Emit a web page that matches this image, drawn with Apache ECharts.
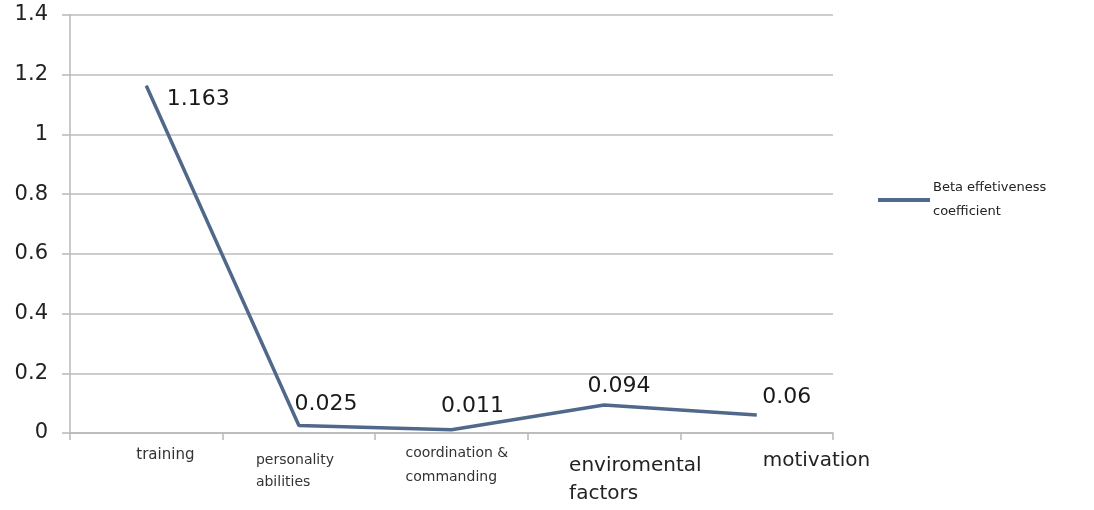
<!DOCTYPE html>
<html>
<head>
<meta charset="utf-8">
<script src="https://cdn.jsdelivr.net/npm/echarts@6/dist/echarts.min.js"></script>
<style>
  html, body { margin: 0; padding: 0; background: #fff; }
  #main { width: 1094px; height: 510px; }
</style>
</head>
<body>
<div id="main"></div>
<script>
var categories = ['training', 'personality abilities', 'coordination & commanding', 'enviromental factors', 'motivation'];
var values = [1.163, 0.025, 0.011, 0.094, 0.06];
var seriesName = 'Beta effetiveness\ncoefficient';
var yTicks = ['0', '0.2', '0.4', '0.6', '0.8', '1', '1.2', '1.4'];

// label offsets (px) relative to each point, Excel put them in odd places
var labelPos = [[21, 14], [-4, -21], [-10, -23], [-16, -18], [6, -17]];

// x label rich style keys per category (first line, second line)
var labelKeys = [['t'], ['p1', 'p2'], ['c1', 'c2'], ['e1', 'e2'], ['m']];
var labelLines = [['training'], ['personality', 'abilities'], ['coordination &', 'commanding'], ['enviromental', 'factors'], ['motivation']];

var myChart = echarts.init(document.getElementById('main'));
var font = '"DejaVu Sans", sans-serif';

var data = [];
for (let i = 0; i < values.length; i++) {
    data.push({
        value: values[i],
        label: { position: labelPos[i] }
    });
}

function small(w, p, top, lh, fs) {
    return { fontSize: fs || 14, lineHeight: lh, color: '#333', width: w, align: 'left', padding: [top, 0, 0, p], fontFamily: font };
}
function big(w, p, top, lh) {
    return { fontSize: 20, lineHeight: lh, color: '#222', width: w, align: 'left', padding: [top, 0, 0, p], fontFamily: font };
}

var option = {
    backgroundColor: '#fff',
    textStyle: { fontFamily: font },
    grid: { left: 70, right: 261, top: 15, bottom: 77, containLabel: false },
    legend: {
        show: true,
        left: 878,
        top: 172,
        padding: 0,
        orient: 'vertical',
        icon: 'rect',
        itemWidth: 52,
        itemHeight: 4,
        itemGap: 5,
        textStyle: { fontSize: 13, lineHeight: 24, color: '#222', fontFamily: font, padding: [0, 0, 8, -2] },
        data: [seriesName]
    },
    xAxis: {
        type: 'category',
        data: categories,
        boundaryGap: true,
        axisLine: { lineStyle: { color: '#b8b8b8', width: 1.5 } },
        axisTick: { show: true, length: 7, lineStyle: { color: '#b8b8b8', width: 1.5 } },
        axisLabel: {
            margin: 8,
            interval: 0,
            formatter: function (v, idx) {
                var keys = labelKeys[idx], lines = labelLines[idx], out = [];
                for (let j = 0; j < lines.length; j++) out.push('{' + keys[j] + '|' + lines[j] + '}');
                return out.join('\n');
            },
            rich: {
                t: small(66, 46, 5, 23, 15),
                p1: small(90, 4, 8, 30), p2: small(90, 4, 0, 22),
                c1: small(102, 10, 0, 24), c2: small(102, 10, 0, 24),
                e1: big(146, 76, 11, 39), e2: big(146, 76, 0, 28),
                m: big(118, 130, 12, 28)
            }
        },
        splitLine: { show: false }
    },
    yAxis: {
        type: 'value',
        min: 0,
        max: 1.4,
        interval: 0.2,
        axisLine: { show: true, lineStyle: { color: '#b8b8b8', width: 1.5 } },
        axisTick: { show: true, length: 8, lineStyle: { color: '#b8b8b8', width: 1.5 } },
        axisLabel: {
            margin: 22,
            fontSize: 21,
            color: '#222',
            fontFamily: font,
            formatter: function (v) {
                return yTicks[Math.round(v / 0.2)];
            }
        },
        splitLine: { lineStyle: { color: '#bdbdbd', width: 1.5 } }
    },
    series: [
        {
            name: seriesName,
            type: 'line',
            data: data,
            symbol: 'circle',
            symbolSize: 1,
            showSymbol: true,
            animation: false,
            itemStyle: { color: '#50698a' },
            lineStyle: { color: '#50698a', width: 3.5 },
            label: {
                show: true,
                align: 'left',
                verticalAlign: 'middle',
                fontSize: 22,
                color: '#1a1a1a',
                fontFamily: font
            }
        }
    ]
};

option && myChart.setOption(option);
</script>
</body>
</html>
